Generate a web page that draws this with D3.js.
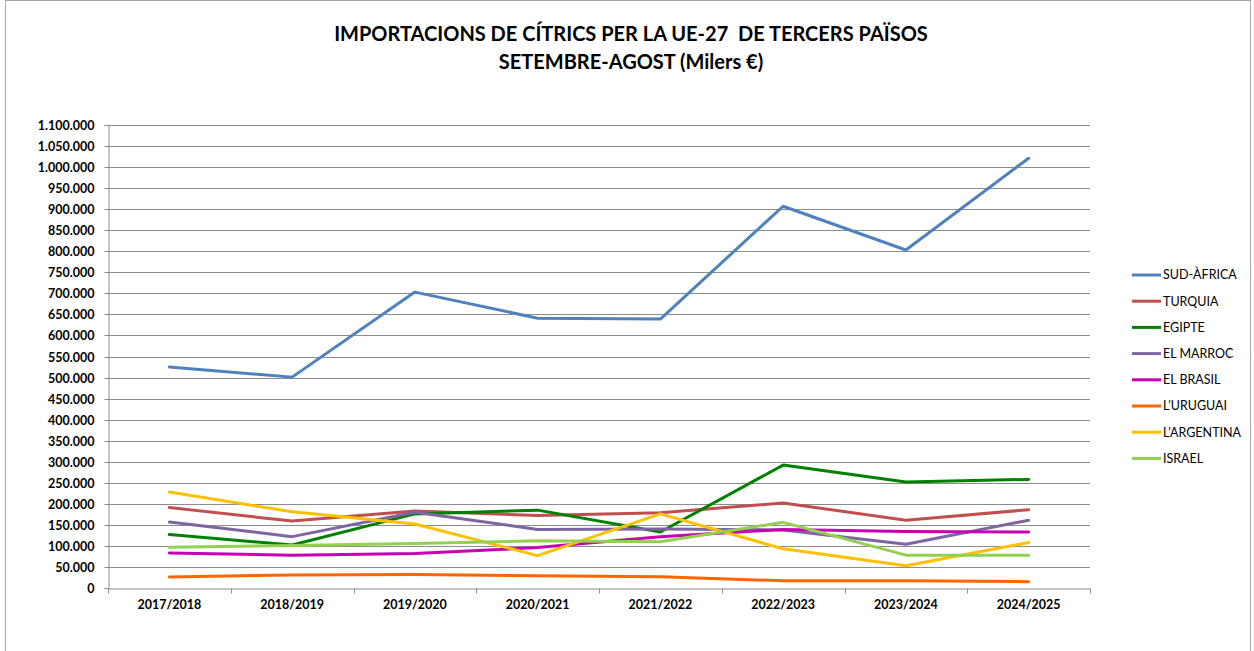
<!DOCTYPE html>
<html>
<head>
<meta charset="utf-8">
<script src="https://cdn.jsdelivr.net/npm/d3@7"></script>
<style>
  body { margin: 0; background: #fff; }
  text { font-family: Lato, "Open Sans", sans-serif; fill: #000; }
</style>
</head>
<body>
<div id="chart"></div>
<script>
const seasons = ["2017/2018", "2018/2019", "2019/2020", "2020/2021", "2021/2022", "2022/2023", "2023/2024", "2024/2025"];

const sudAfrica  = [525000, 501000, 703000, 641000, 639000, 907000, 803000, 1021000];
const turquia    = [191000, 159000, 183000, 172000, 179000, 202000, 161000, 186000];
const egipte     = [127000, 102000, 176000, 185000, 133000, 292000, 252000, 258000];
const elMarroc   = [157000, 122000, 180000, 139000, 140000, 138000, 104000, 161000];
const elBrasil   = [83000, 78000, 82000, 96000, 122000, 139000, 134000, 133000];
const lUruguai   = [26000, 31000, 32000, 29000, 27000, 17000, 17000, 15000];
const lArgentina = [228000, 181000, 152000, 77000, 176000, 93000, 53000, 108000];
const israel     = [97000, 101000, 106000, 112000, 110000, 156000, 78000, 78000];

const yTicks = d3.range(0, 1100001, 50000);

const series = [
  {name: "SUD-ÀFRICA", values: sudAfrica, color: "#4F81BD"},
  {name: "TURQUIA", values: turquia, color: "#C0504D"},
  {name: "EGIPTE", values: egipte, color: "#008000"},
  {name: "EL MARROC", values: elMarroc, color: "#8064A2"},
  {name: "EL BRASIL", values: elBrasil, color: "#C800B4"},
  {name: "L'URUGUAI", values: lUruguai, color: "#FF6600"},
  {name: "L'ARGENTINA", values: lArgentina, color: "#FFC000"},
  {name: "ISRAEL", values: israel, color: "#92D050"}
];

const width = 1254, height = 651;
const plot = {left: 108, right: 1090, top: 125, bottom: 588};

const svg = d3.select("#chart").append("svg")
  .attr("width", width)
  .attr("height", height);

// chart frame
svg.append("rect")
  .attr("x", 5.5).attr("y", 0.5)
  .attr("width", 1245).attr("height", 680)
  .attr("fill", "none").attr("stroke", "#a6a6a6").attr("stroke-width", 1);

// title
const title = svg.append("g").attr("font-weight", "bold").attr("font-size", 20).attr("text-anchor", "middle");
title.append("text").attr("x", 631).attr("y", 41).text("IMPORTACIONS DE CÍTRICS PER LA UE-27  DE TERCERS PAÏSOS").attr("xml:space", "preserve");
title.append("text").attr("x", 631).attr("y", 69).text("SETEMBRE-AGOST (Milers €)");

const x = d3.scaleBand().domain(seasons).range([plot.left, plot.right]);
const y = d3.scaleLinear().domain([0, 1100000]).range([plot.bottom, plot.top]);

const fmt = d3.formatLocale({decimal: ",", thousands: ".", grouping: [3], currency: ["", "€"]}).format(",.0f");

// gridlines
svg.append("g")
  .selectAll("line")
  .data(yTicks.filter(d => d > 0))
  .join("line")
  .attr("x1", plot.left).attr("x2", plot.right)
  .attr("y1", d => Math.round(y(d)) + 0.5).attr("y2", d => Math.round(y(d)) + 0.5)
  .attr("stroke", "#8c8c8c").attr("stroke-width", 1);

// y axis
const yAxis = svg.append("g")
  .attr("transform", `translate(${plot.left + 0.5},0)`)
  .call(d3.axisLeft(y).tickValues(yTicks).tickFormat(fmt).tickSize(4).tickPadding(10));
yAxis.select(".domain").attr("stroke", "#8c8c8c");
yAxis.selectAll(".tick line").attr("stroke", "#8c8c8c");
yAxis.selectAll(".tick text").attr("font-size", 12.5).attr("font-weight", "bold").attr("fill", "#000");
yAxis.selectAll(".tick").attr("transform", d => `translate(0,${Math.round(y(d)) + 0.5})`);

// x axis
const xAxis = svg.append("g")
  .attr("transform", `translate(0,${plot.bottom + 0.5})`)
  .call(d3.axisBottom(x).tickSize(0).tickPadding(12));
xAxis.select(".domain").attr("stroke", "#8c8c8c");
xAxis.selectAll(".tick text").attr("font-size", 12.5).attr("font-weight", "bold").attr("fill", "#000");
xAxis.append("g")
  .selectAll("line")
  .data(seasons.map(s => x(s)).concat([plot.right]))
  .join("line")
  .attr("x1", d => Math.round(d) + 0.5).attr("x2", d => Math.round(d) + 0.5)
  .attr("y1", 0).attr("y2", 5)
  .attr("stroke", "#8c8c8c");

// lines
const line = d3.line()
  .x((d, i) => x(seasons[i]) + x.bandwidth() / 2)
  .y(d => y(d));

svg.append("g")
  .selectAll("path")
  .data(series)
  .join("path")
  .attr("d", d => line(d.values))
  .attr("fill", "none")
  .attr("stroke", d => d.color)
  .attr("stroke-width", 3)
  .attr("stroke-linejoin", "round")
  .attr("stroke-linecap", "round");

// legend
const legend = svg.append("g").attr("transform", "translate(1132,275)");
const items = legend.selectAll("g")
  .data(series)
  .join("g")
  .attr("transform", (d, i) => `translate(0,${i * 26.2})`);
items.append("line")
  .attr("x1", 0).attr("x2", 29)
  .attr("stroke", d => d.color).attr("stroke-width", 3);
items.append("text")
  .attr("x", 31).attr("dy", "0.35em")
  .attr("font-size", 12.5)
  .text(d => d.name);
</script>
</body>
</html>
